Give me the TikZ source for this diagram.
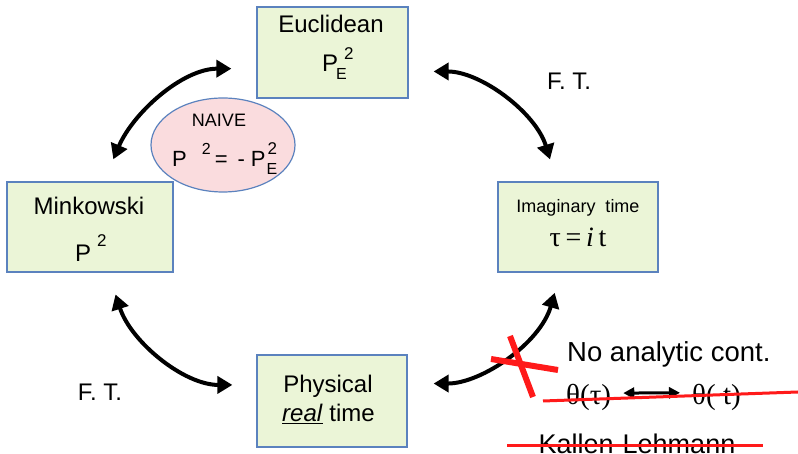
\documentclass[tikz,border=0pt]{standalone}
\usepackage{fontspec}
\setmainfont{Liberation Sans}
\newfontfamily\serif{Liberation Serif}
\usetikzlibrary{arrows.meta,shapes.geometric}

\definecolor{boxfill}{HTML}{EBF5D7}
\definecolor{boxline}{HTML}{5B82BE}
\definecolor{naivefill}{HTML}{FADCDE}
\definecolor{strike}{HTML}{FF1A1A}

\newcommand\fsz[1]{\fontsize{#1}{#1}\selectfont}
% P with subscript E and superscript 2, #1 = kern after P, #2 = shift of the 2
\newcommand\psqE[2]{P\kern#1\rlap{\raisebox{-8pt}{\fsz{16}E}}\kern#2\raisebox{12pt}{\fsz{17}2}}

\tikzset{
frame/.style={draw=boxline,line width=1.2pt,fill=boxfill,inner sep=0pt},
lbl/.style={anchor=base,inner sep=0pt,font=\fsz{24}},
bendarrow/.style={line width=4pt,{Triangle[length=15pt,width=17pt]}-{Triangle[length=15pt,width=17pt]}},
strikeline/.style={draw=strike,line width=3pt}
}

\begin{document}
\begin{tikzpicture}[x=1pt,y=1pt]
\useasboundingbox (0,0) rectangle (798,454);
\node[frame,minimum width=151pt,minimum height=91pt] (eu) at (332.5,401.5) {};
\node[frame,minimum width=166pt,minimum height=90pt] (mink) at (90,227) {};
\node[frame,minimum width=160pt,minimum height=90pt] (imag) at (578,227) {};
\node[frame,minimum width=150pt,minimum height=92pt] (phys) at (332,53) {};
\node[ellipse,draw=boxline,line width=1.2pt,fill=naivefill,inner sep=0pt,
minimum width=144pt,minimum height=94pt] (naive) at (223,309) {};

\node[lbl] (eutxt) at (331,421) {Euclidean};
\node[lbl,anchor=base west] (eusq) at (322,382) {\psqE{-2pt}{8pt}};
\node[lbl,font=\fsz{18}] (naivetxt) at (219,327) {NAIVE};
\node[lbl,anchor=base west,font=\fsz{22}] (naivesq) at (172,287)
{P\kern15pt\raisebox{12pt}{\fsz{16}2}\kern4pt=\kern10pt-\kern6pt\psqE{1pt}{1pt}};
\node[lbl] (minktxt) at (89,239) {Minkowski};
\node[lbl,anchor=base west] (minksq) at (75,192) {P\kern6pt\raisebox{15pt}{\fsz{17}2}};
\node[lbl,font=\fsz{18}] (imagtxt) at (578,241) {Imaginary\ \ time};
\node[lbl,font=\serif\fsz{28}] (imagsq) at (578,207) {τ\,=\,\textit{i}\,t};
\node[lbl] (phystxt) at (328,61) {Physical};
\node[lbl] (physreal) at (328.5,32) {\underline{\textit{real}} time};

\node[lbl] (ft1) at (569,364) {F. T.};
\node[lbl] (ft2) at (100,53) {F. T.};
\node[lbl,anchor=base west,font=\fsz{27.5}] (noac) at (567,92) {No analytic cont.};
\node[lbl,anchor=base west,font=\serif\fsz{29}] (th1) at (566,49) {θ(τ)};
\node[lbl,anchor=base west,font=\serif\fsz{29}] (th2) at (692,49) {θ( t)};
\node[lbl,font=\fsz{27}] (kl) at (637,0) {Kallen-Lehmann};

\draw[bendarrow,shorten <=24pt,shorten >=25pt] (mink.73) to[out=67,in=180] (eu.192);
\draw[bendarrow,shorten <=25pt,shorten >=23pt] (eu.-14) to[out=0,in=107] (imag.115);
\draw[bendarrow,shorten <=23pt,shorten >=24pt] (mink.-68) to[out=-72,in=180] (phys.168);
\draw[bendarrow,shorten <=26pt,shorten >=21pt] (phys.13) to[out=0,in=-106] (imag.-111);
\draw[line width=3pt,{Triangle[length=11pt,width=11pt]}-{Triangle[length=11pt,width=11pt]},
shorten <=12pt,shorten >=12pt] (th1.12) -- (th2.168);

\draw[strikeline] (543,53) -- (798,62);
\draw[strikeline] (507,8) -- (763,8);
\draw[strike,line width=6pt] (491,95) -- (558,84);
\draw[strike,line width=6pt] (510,118) -- (533,57);
\end{tikzpicture}
\end{document}
